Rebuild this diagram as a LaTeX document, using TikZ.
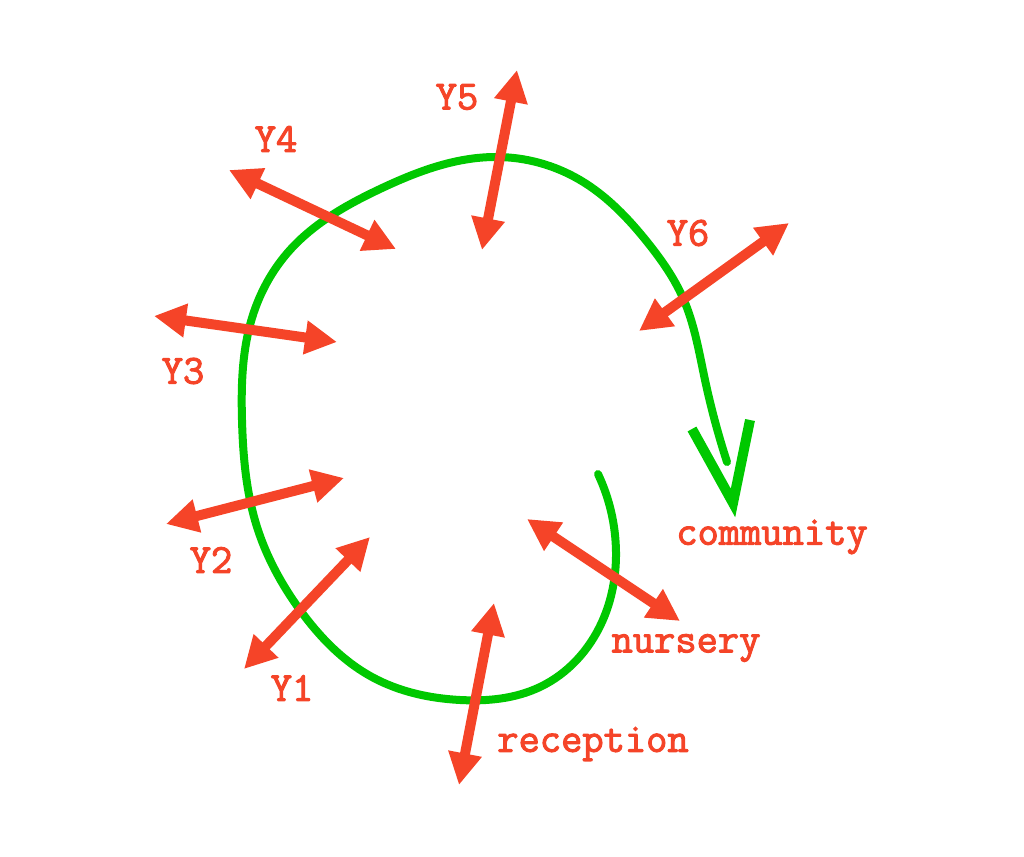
\documentclass[tikz,border=0pt]{standalone}
\usepackage{fontspec}
\newfontfamily\labfont{Latin Modern Mono}[FakeBold=2.5]
\usepackage{tikz}
\usetikzlibrary{arrows.meta,hobby}
\definecolor{myred}{RGB}{245,68,40}
\definecolor{mygreen}{RGB}{0,200,0}

\begin{document}
\begin{tikzpicture}[x=0.02cm, y=0.02cm,
  main/.style = {myred, line width=10*0.02cm, {Triangle[length=0.64cm,width=0.64cm]}-{Triangle[length=0.64cm,width=0.64cm]}},
  lab/.style = {text=myred, font=\labfont\fontsize{23.5}{26}\selectfont},
  loop/.style = {mygreen, line width=8*0.02cm, line cap=round, line join=round}]
\useasboundingbox (0,0) rectangle (1024,-857);
% green path
\draw[loop] (598,-474) to[curve through={(616,-552) (602,-622) (540,-687) (460,-700) (372,-677) (300,-610) (257,-527) (242,-420) (252,-318) (290,-250) (380,-189) (497,-157) (580,-180) (648,-243) (683,-298) (705,-380)}] (727,-462);
\draw[mygreen, line width=10*0.02cm] (692,-429) -- (733,-503) -- (750,-420);
% arrow ends
\coordinate (5a) at (517,-70);  \coordinate (5b) at (482,-250);
\coordinate (4a) at (229,-170); \coordinate (4b) at (396,-249);
\coordinate (3a) at (154,-316); \coordinate (3b) at (337,-342);
\coordinate (2a) at (166,-524); \coordinate (2b) at (344,-478);
\coordinate (1a) at (244,-669); \coordinate (1b) at (370,-537);
\coordinate (ra) at (459,-785); \coordinate (rb) at (494,-603);
\coordinate (na) at (527,-519); \coordinate (nb) at (680,-621);
\coordinate (6a) at (789,-223); \coordinate (6b) at (639,-331);
\draw[main] (5a) -- (5b);
\draw[main] (4a) -- (4b);
\draw[main] (3a) -- (3b);
\draw[main] (2a) -- (2b);
\draw[main] (1a) -- (1b);
\draw[main] (ra) -- (rb);
\draw[main] (na) -- (nb);
\draw[main] (6a) -- (6b);
% labels
\node[lab] (l5) at (457,-97) {Y5};
\node[lab] (l4) at (276,-139) {Y4};
\node[lab] (l6) at (688,-233) {Y6};
\node[lab] (l3) at (183,-371) {Y3};
\node[lab] (l2) at (211,-560) {Y2};
\node[lab] (l1) at (292,-688) {Y1};
\node[lab] (lr) at (593,-744) {reception};
\node[lab] (ln) at (686,-648) {nursery};
\node[lab] (lc) at (772,-537) {community};
\end{tikzpicture}
\end{document}
